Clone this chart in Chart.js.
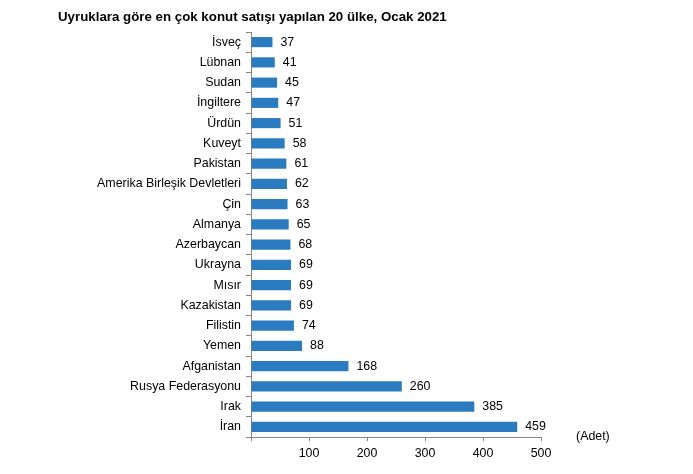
<!DOCTYPE html>
<html><head><meta charset="utf-8">
<script src="https://cdn.jsdelivr.net/npm/chart.js@4.4.1/dist/chart.umd.min.js"></script>
<style>html,body{margin:0;padding:0;background:#fff}#wrap{width:693px;height:474px}</style>
</head><body><div id="wrap"><canvas id="c" width="693" height="474"></canvas></div>
<script>
const titleText = "Uyruklara göre en çok konut satışı yapılan 20 ülke, Ocak 2021";
const categories = ["İsveç","Lübnan","Sudan","İngiltere","Ürdün","Kuveyt","Pakistan","Amerika Birleşik Devletleri","Çin","Almanya","Azerbaycan","Ukrayna","Mısır","Kazakistan","Filistin","Yemen","Afganistan","Rusya Federasyonu","Irak","İran"];
const values = [37,41,45,47,51,58,61,62,63,65,68,69,69,69,74,88,168,260,385,459];
const xTicks = [0,100,200,300,400,500];
const unitLabel = "(Adet)";
const FONT = "'Liberation Sans', Arial, sans-serif";
const AX = "#868686";

const extras = {
  id: 'extras',
  afterDatasetsDraw(chart) {
    const ctx = chart.ctx;
    const meta = chart.getDatasetMeta(0);
    ctx.save();
    ctx.font = "12.4px " + FONT;
    ctx.fillStyle = "#000";
    ctx.textBaseline = "middle";
    ctx.textAlign = "left";
    meta.data.forEach((el, i) => {
      ctx.fillText(String(values[i]), el.x + 8, el.y);
    });
    ctx.font = "bold 13.3px " + FONT;
    ctx.fillText(titleText, 58, 17);
    ctx.font = "12.4px " + FONT;
    ctx.fillText(unitLabel, 576, 437);
    ctx.restore();
  }
};

new Chart(document.getElementById('c'), {
  type: 'bar',
  data: { labels: categories, datasets: [{ data: values, backgroundColor: '#2a7bbf', barPercentage: 0.5, categoryPercentage: 1.0 }] },
  options: {
    indexAxis: 'y',
    responsive: false,
    animation: false,
    layout: { padding: { left: 0, right: 152, top: 32, bottom: 0 } },
    plugins: { legend: { display: false }, tooltip: { enabled: false } },
    scales: {
      x: {
        min: 0, max: 500,
        afterBuildTicks(s) { s.ticks = xTicks.map(v => ({ value: v })); },
        afterFit(s) { s.height = 37; },
        border: { color: AX },
        grid: { drawOnChartArea: false, drawTicks: true, tickLength: 4, color: AX },
        ticks: { color: '#000', font: { family: FONT, size: 12.4 }, padding: 5, callback: (v) => v === 0 ? '' : v }
      },
      y: {
        afterFit(s) { s.width = 251; },
        border: { color: AX },
        grid: { drawOnChartArea: false, drawTicks: true, tickLength: 5, color: AX, offset: true },
        ticks: { color: '#000', font: { family: FONT, size: 12.4 }, padding: 5 }
      }
    }
  },
  plugins: [extras]
});
</script></body></html>
